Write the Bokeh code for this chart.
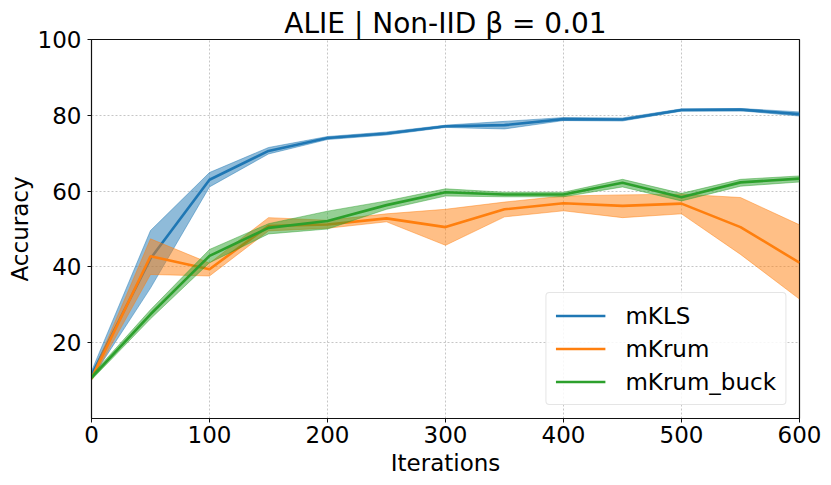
from bokeh.plotting import figure
from bokeh.models import FixedTicker, Legend, LegendItem
from bokeh.embed import file_html
from bokeh.resources import INLINE

iterations = [0, 50, 100, 150, 200, 250, 300, 350, 400, 450, 500, 550, 600]

mkls_mean = [11.5, 42.2, 63.0, 70.6, 74.0, 75.2, 77.1, 77.4, 79.0, 78.9, 81.4, 81.5, 80.3]
mkls_low  = [10.5, 34.4, 61.1, 69.8, 73.6, 74.8, 76.8, 76.4, 78.6, 78.5, 81.1, 81.2, 79.8]
mkls_high = [12.5, 49.6, 64.9, 71.5, 74.4, 75.6, 77.4, 78.4, 79.4, 79.3, 81.7, 81.8, 80.9]

mkrum_mean = [10.5, 42.8, 39.4, 50.8, 51.2, 52.8, 50.5, 55.2, 56.8, 56.1, 56.7, 50.5, 41.1]
mkrum_low  = [10.0, 38.0, 37.6, 49.5, 50.2, 51.9, 45.7, 53.2, 54.8, 53.0, 54.0, 43.3, 31.5]
mkrum_high = [11.0, 47.4, 41.0, 53.0, 52.3, 54.0, 55.2, 57.1, 58.7, 59.0, 59.2, 58.3, 51.1]

buck_mean = [10.8, 27.5, 42.9, 50.3, 52.1, 56.3, 59.7, 59.1, 59.1, 62.2, 58.4, 62.3, 63.3]
buck_low  = [10.2, 26.3, 41.1, 48.7, 50.0, 55.2, 58.7, 58.5, 58.5, 61.1, 57.4, 61.3, 62.4]
buck_high = [11.4, 28.7, 44.6, 51.4, 54.7, 57.4, 60.6, 59.7, 59.7, 63.1, 59.4, 63.1, 64.0]

series_names = ["mKLS", "mKrum", "mKrum_buck"]
colors = ["#1f77b4", "#ff7f0e", "#2ca02c"]

x_ticks = [0, 100, 200, 300, 400, 500, 600]
y_ticks = [20, 40, 60, 80, 100]

FONT = "DejaVu Sans"

p = figure(width=831, height=485, x_range=(0, 600), y_range=(0, 100),
           output_backend="svg", toolbar_location=None,
           title="ALIE | Non-IID β = 0.01")
p.min_border_left = 91
p.min_border_right = 32
p.min_border_top = 39
p.min_border_bottom = 67

p.title.align = "center"
p.title.text_font = FONT
p.title.text_font_size = "28px"
p.title.text_font_style = "normal"
p.title.text_color = "black"
p.title.offset = 0
p.title.standoff = 0

p.outline_line_color = "#111111"
p.outline_line_width = 1.2
p.background_fill_color = "white"
p.border_fill_color = "white"

for ax in (p.xaxis[0], p.yaxis[0]):
    ax.axis_label_text_font = FONT
    ax.axis_label_text_font_size = "23px"
    ax.axis_label_text_font_style = "normal"
    ax.axis_label_text_color = "black"
    ax.major_label_text_font = FONT
    ax.major_label_text_font_size = "23px"
    ax.major_label_text_color = "black"
    ax.axis_line_color = "#111111"
    ax.major_tick_line_color = "#111111"
    ax.major_tick_out = 4
    ax.major_tick_in = 0
    ax.minor_tick_line_color = None

p.xaxis.axis_label = "Iterations"
p.yaxis.axis_label = "Accuracy"
p.xaxis.ticker = FixedTicker(ticks=x_ticks)
p.yaxis.ticker = FixedTicker(ticks=y_ticks)
p.xaxis.major_label_standoff = 3
p.xaxis.axis_label_standoff = 4
p.yaxis.major_label_standoff = 6
p.yaxis.axis_label_standoff = 2

p.xgrid.ticker = FixedTicker(ticks=x_ticks)
p.ygrid.ticker = FixedTicker(ticks=y_ticks)
for g in (p.xgrid[0], p.ygrid[0]):
    g.grid_line_color = "#b0b0b0"
    g.grid_line_dash = "2 2"
    g.grid_line_width = 0.8
    g.grid_line_alpha = 0.9

data = [
    (mkls_mean, mkls_low, mkls_high),
    (mkrum_mean, mkrum_low, mkrum_high),
    (buck_mean, buck_low, buck_high),
]

items = []
for name, color, (m, lo, hi) in zip(series_names, colors, data):
    p.varea(x=iterations, y1=lo, y2=hi, fill_color=color, fill_alpha=0.5)
    p.line(x=iterations, y=lo, line_color=color, line_alpha=0.45, line_width=1)
    p.line(x=iterations, y=hi, line_color=color, line_alpha=0.45, line_width=1)
    r = p.line(x=iterations, y=m, line_color=color, line_width=2.6)
    items.append(LegendItem(label=name, renderers=[r]))

legend = Legend(items=items, location="bottom_right")
legend.label_text_font = FONT
legend.label_text_font_size = "23px"
legend.label_text_color = "black"
legend.label_standoff = 20
legend.glyph_width = 50
legend.glyph_height = 27
legend.label_height = 27
legend.spacing = 6
legend.padding = 9
legend.margin = 13
legend.border_line_color = "#cccccc"
legend.border_line_width = 1
legend.border_radius = 4
legend.background_fill_alpha = 0.85
p.add_layout(legend, "center")

open("out.html", "w").write(file_html(p, INLINE))
